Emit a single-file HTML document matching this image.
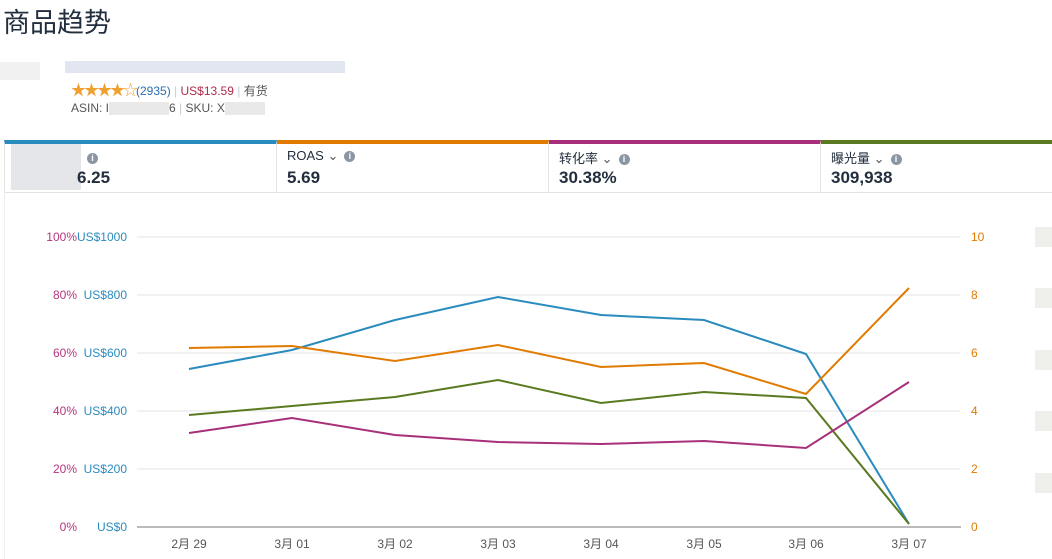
<!DOCTYPE html>
<html><head><meta charset="utf-8"><style>
body{margin:0;width:1052px;height:559px;background:#fff;font-family:"Liberation Sans","Noto Sans CJK SC",sans-serif;color:#232f3e;position:relative;overflow:hidden}
.a{position:absolute;white-space:nowrap}
.tab{position:absolute;top:140px;height:52px;border-top:4px solid;border-right:1px solid #e3e3e3;box-sizing:border-box}
.lab{position:absolute;left:10px;top:4px;font-size:13px;color:#232f3e}
.val{position:absolute;left:10px;top:24px;font-size:17px;font-weight:bold;color:#232f3e}
.i{display:inline-block;width:11px;height:11px;border-radius:50%;background:#8a96a3;color:#fff;font-size:9px;text-align:center;line-height:11px;font-weight:bold;vertical-align:middle;margin-left:6px}
</style></head><body>
<div class="a" style="left:3px;top:1px;font-size:27px;">商品趋势</div>
<div class="a" style="left:0;top:62px;width:40px;height:18px;background:#f0f0f0"></div>
<div class="a" style="left:65px;top:61px;width:280px;height:12px;background:#e2e6f0"></div>
<div class="a" style="left:71px;top:79px;font-size:12px;"><span style="color:#f0a030;font-size:15px;letter-spacing:-2px">★★★★☆</span><span style="color:#2a6fb0">(2935)</span> <span style="color:#ccc">|</span> <span style="color:#b12a4a">US$13.59</span> <span style="color:#ccc">|</span> <span style="color:#555">有货</span></div>
<div class="a" style="left:71px;top:101px;font-size:12px;color:#555">ASIN: I<span style="display:inline-block;width:60px;height:13px;background:#e9e9e9;vertical-align:middle"></span>6 <span style="color:#ccc">|</span> SKU: X<span style="display:inline-block;width:40px;height:13px;background:#e9e9e9;vertical-align:middle"></span></div>
<div class="tab" style="left:4px;width:273px;border-top-color:#2a8bbf;border-left:1px solid #e3e3e3"><div class="a" style="left:6px;top:0;width:70px;height:46px;background:#e4e6ea"></div><div class="a" style="left:76px;top:6px"><span class="i">i</span></div><div class="val" style="left:72px">6.25</div></div>
<div class="tab" style="left:277px;width:272px;border-top-color:#e07b00"><div class="lab">ROAS <span style="color:#555">⌄</span><span class="i">i</span></div><div class="val">5.69</div></div>
<div class="tab" style="left:549px;width:272px;border-top-color:#a8307a"><div class="lab">转化率 <span style="color:#555">⌄</span><span class="i">i</span></div><div class="val">30.38%</div></div>
<div class="tab" style="left:821px;width:231px;border-top-color:#5a7a22;border-right:none"><div class="lab">曝光量 <span style="color:#555">⌄</span><span class="i">i</span></div><div class="val">309,938</div></div>
<div class="a" style="left:4px;top:192px;width:1048px;height:1px;background:#e3e3e3"></div>
<div class="a" style="left:4px;top:192px;width:1px;height:367px;background:#eee"></div>
<svg class="a" style="left:0;top:0" width="1052" height="559" font-family="Liberation Sans, Noto Sans CJK SC, sans-serif" font-size="12">
<g stroke="#e3e3e3" stroke-width="1">
<line x1="137" x2="960" y1="237" y2="237"/><line x1="137" x2="960" y1="295" y2="295"/><line x1="137" x2="960" y1="353" y2="353"/><line x1="137" x2="960" y1="411" y2="411"/><line x1="137" x2="960" y1="469" y2="469"/></g>
<line x1="137" x2="961" y1="527" y2="527" stroke="#bbb" stroke-width="2"/>
<g fill="#b4367f" text-anchor="end"><text x="77" y="241">100%</text><text x="77" y="299">80%</text><text x="77" y="357">60%</text><text x="77" y="415">40%</text><text x="77" y="473">20%</text><text x="77" y="531">0%</text></g>
<g fill="#2a8bbf" text-anchor="end"><text x="127" y="241">US$1000</text><text x="127" y="299">US$800</text><text x="127" y="357">US$600</text><text x="127" y="415">US$400</text><text x="127" y="473">US$200</text><text x="127" y="531">US$0</text></g>
<g fill="#e07b00"><text x="971" y="241">10</text><text x="971" y="299">8</text><text x="971" y="357">6</text><text x="971" y="415">4</text><text x="971" y="473">2</text><text x="971" y="531">0</text></g>
<g fill="#555" text-anchor="middle"><text x="189" y="548">2月 29</text><text x="292" y="548">3月 01</text><text x="395" y="548">3月 02</text><text x="498" y="548">3月 03</text><text x="601" y="548">3月 04</text><text x="704" y="548">3月 05</text><text x="806" y="548">3月 06</text><text x="909" y="548">3月 07</text></g>
<g fill="none" stroke-width="2">
<polyline stroke="#2a8bbf" points="189,369 292,350 395,320 498,297 601,315 704,320 806,354 909,524"/>
<polyline stroke="#e07b00" points="189,348 292,346 395,361 498,345 601,367 704,363 806,394 909,288"/>
<polyline stroke="#5a7a22" points="189,415 292,406 395,397 498,380 601,403 704,392 806,398 909,524"/>
<polyline stroke="#a8307a" points="189,433 292,418 395,435 498,442 601,444 704,441 806,448 909,382"/>
</g>
<g fill="#efefeb"><rect x="1035" y="227" width="17" height="20"/><rect x="1035" y="288" width="17" height="20"/><rect x="1035" y="350" width="17" height="20"/><rect x="1035" y="411" width="17" height="20"/><rect x="1035" y="473" width="17" height="20"/></g>
</svg>
</body></html>
